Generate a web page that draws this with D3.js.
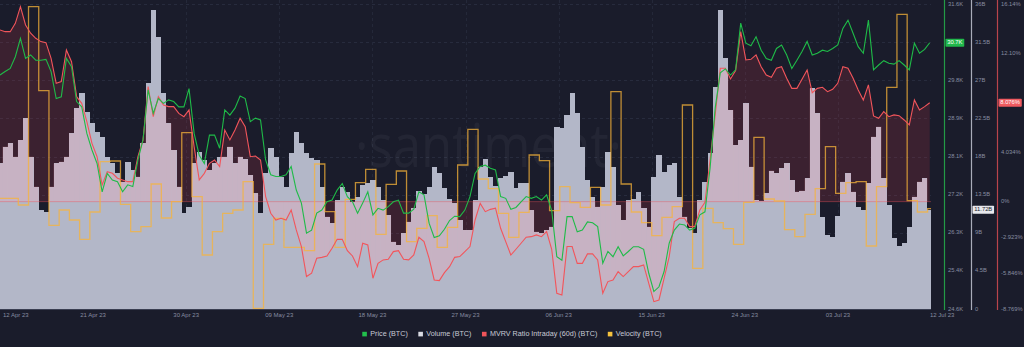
<!DOCTYPE html>
<html>
<head>
<meta charset="utf-8">
<script src="https://cdn.jsdelivr.net/npm/d3@7"></script>
<style>
  html, body { margin: 0; padding: 0; background: #1a1c2b; }
  svg { display: block; font-family: "Liberation Sans", Arial, "DejaVu Sans", sans-serif; }
</style>
</head>
<body>
<svg id="chart" width="1024" height="347"></svg>
<script>
// ---- series: 12-hourly samples starting 12 Apr 2023 05:00 UTC ----
const startTime = Date.UTC(2023, 3, 12, 5);
const endTime = Date.UTC(2023, 6, 12, 8);
const stepHours = 12;

// Price (USD per BTC)
const priceBTC = [
  29970, 30050, 30120, 30390, 30810, 30350, 30430, 30310, 30310, 30330,
  30050, 29430, 29470, 30350, 30160, 29360, 29240, 28630, 28250, 27940,
  27290, 27710, 27560, 27520, 27290, 27450, 27410, 28020, 28480, 29630,
  29090, 29430, 29320, 29400, 29360, 29240, 29240, 29660, 28630, 28130,
  27940, 28590, 28590, 28290, 29170, 29050, 29210, 29490, 29430, 28900,
  28980, 28940, 28020, 27680, 27640, 27640, 27680, 27870, 27330, 27030,
  26340, 26410, 26800, 26870, 27060, 27100, 27330, 27480, 27180, 27060,
  26800, 27030, 27290, 26760, 26910, 26870, 26950, 27060, 27100, 26800,
  26800, 26890, 27290, 27220, 26570, 26240, 26280, 26430, 26630, 26730,
  26720, 26870, 27180, 27710, 27870, 27900, 27830, 27790, 27180, 27140,
  26890, 26930, 27060, 27180, 27140, 27180, 27100, 27220, 26860, 25800,
  25720, 26720, 26720, 26370, 26410, 26600, 26580, 26490, 25650, 25920,
  25800, 26030, 25820, 25920, 26030, 26030, 25970, 25420, 25000, 25110,
  25460, 26110, 26410, 26550, 26530, 26410, 26450, 26760, 26830, 27830,
  29210, 30020, 30110, 29970, 30090, 31160, 30700, 30640, 30850, 30540,
  30350, 30310, 30580, 30660, 30430, 30120, 30310, 30510, 30740, 30430,
  30470, 30540, 30510, 30580, 30660, 31040, 31230, 30930, 30620, 30470,
  31230, 30090, 30200, 30300, 30240, 30220, 30300, 30200, 30090, 30700,
  30470, 30560, 30710
];

// Volume (billions)
const volumeBTC = [
  17.19, 19.16, 19.55, 17.98, 19.95, 22.50, 17.98, 14.44, 11.68, 11.49,
  14.44, 17.19, 17.39, 17.98, 20.73, 23.68, 25.45, 23.29, 21.91, 20.93,
  20.34, 17.98, 17.19, 16.01, 15.03, 17.39, 16.40, 15.62, 19.55, 26.63,
  35.29, 32.14, 25.45, 21.91, 18.77, 14.44, 11.29, 12.08, 17.19, 18.57,
  17.58, 16.40, 17.19, 17.98, 17.98, 19.16, 17.19, 17.98, 17.66, 15.81,
  13.65, 11.29, 16.01, 18.96, 17.98, 15.62, 14.44, 18.37, 20.93, 19.55,
  18.37, 17.78, 17.58, 14.44, 10.90, 10.11, 12.86, 14.36, 13.85, 12.67,
  13.26, 14.60, 14.91, 15.22, 14.44, 12.86, 11.09, 7.95, 7.55, 8.93,
  10.31, 11.88, 13.97, 13.57, 14.44, 16.80, 16.01, 14.24, 12.94, 12.47,
  10.50, 9.32, 9.32, 12.86, 16.80, 17.66, 15.62, 14.52, 15.42, 15.70,
  16.21, 14.24, 14.83, 14.83, 11.68, 9.13, 8.93, 9.32, 9.72, 21.52,
  21.32, 22.90, 25.45, 23.09, 19.16, 15.22, 13.26, 12.08, 14.44, 18.57,
  16.80, 12.27, 10.50, 12.86, 12.94, 13.85, 11.88, 9.72, 15.62, 18.18,
  16.21, 16.99, 17.19, 13.26, 10.90, 9.52, 8.93, 12.86, 15.03, 18.37,
  26.24, 35.29, 29.58, 23.49, 19.36, 19.95, 24.27, 16.80, 12.86, 12.79,
  13.65, 16.33, 16.01, 16.60, 17.19, 15.22, 13.85, 13.97, 15.42, 26.04,
  23.09, 10.90, 8.73, 8.46, 10.98, 15.03, 16.01, 13.85, 12.08, 11.68,
  14.83, 20.34, 21.52, 15.42, 12.27, 8.34, 7.44, 7.75, 9.72, 13.26,
  15.03, 15.42, 11.72
];

// MVRV Ratio Intraday (60d), percent
const mvrvPct = [
  14.02, 13.88, 13.88, 14.56, 15.92, 14.43, 13.75, 13.34, 13.07, 12.98,
  11.70, 9.66, 9.80, 12.39, 11.43, 8.57, 8.03, 6.53, 4.76, 3.67,
  1.36, 2.45, 2.31, 1.91, 1.77, 1.63, 1.63, 3.67, 5.04, 9.39,
  6.94, 8.57, 7.89, 7.76, 7.76, 7.21, 6.94, 7.49, 4.49, 1.77,
  2.31, 3.13, 3.40, 2.86, 5.85, 5.04, 5.85, 6.81, 6.12, 3.67,
  3.73, 3.40, 0.41, -0.95, -1.50, -1.36, -1.50, -0.68, -2.31, -3.67,
  -6.12, -5.85, -4.63, -4.55, -4.44, -3.81, -3.08, -3.08, -4.00, -4.44,
  -5.31, -3.40, -3.54, -6.26, -5.04, -4.76, -4.71, -4.08, -4.00, -4.71,
  -4.76, -4.36, -2.91, -3.27, -4.63, -6.40, -6.45, -5.80, -5.31, -4.55,
  -4.49, -4.08, -3.67, -1.50, -0.14, -0.82, -0.63, -0.54, -2.18, -3.27,
  -4.36, -3.89, -3.40, -2.91, -2.86, -2.72, -2.86, -2.45, -3.89, -7.49,
  -7.62, -3.67, -3.67, -5.04, -5.04, -4.27, -4.27, -4.76, -7.49, -6.53,
  -6.40, -5.72, -6.12, -5.72, -5.31, -5.31, -5.17, -6.67, -8.17, -8.03,
  -6.26, -4.49, -1.63, -1.36, -1.36, -2.04, -2.04, -0.68, -0.05, 3.40,
  7.08, 10.89, 10.89, 10.02, 10.70, 13.88, 11.57, 11.62, 11.98, 11.02,
  10.34, 10.15, 10.89, 11.02, 10.07, 9.25, 9.25, 9.99, 10.75, 8.90,
  9.25, 9.34, 8.98, 9.17, 9.66, 11.02, 10.89, 10.07, 9.12, 8.30,
  9.53, 7.00, 6.81, 7.35, 6.94, 7.08, 7.02, 6.67, 6.26, 8.30,
  7.49, 7.76, 8.076
];

// Velocity, one value per calendar day from 12 Apr 2023 to 12 Jul 2023
const velocityDaily = [
  3.32, 3.32, 3.12, 9.07, 6.55, 2.51, 2.97, 2.67, 2.09, 2.91,
  4.42, 4.44, 3.14, 2.32, 2.47, 3.75, 2.73, 3.22, 5.29, 3.37,
  1.62, 2.32, 2.87, 2.97, 3.82, 0.02, 1.94, 2.72, 1.85, 1.85,
  1.75, 4.35, 2.92, 1.85, 3.29, 3.79, 4.19, 2.24, 3.74, 4.14,
  2.02, 2.42, 2.80, 1.85, 2.45, 4.32, 5.39, 3.90, 3.61, 2.87,
  2.15, 2.90, 4.62, 4.45, 2.95, 3.67, 3.19, 3.05, 3.65, 3.12,
  6.52, 3.75, 2.91, 2.59, 2.20, 2.75, 3.07, 6.12, 1.22, 3.02,
  2.59, 2.41, 1.94, 3.20, 5.15, 3.30, 3.24, 2.38, 2.17, 2.84,
  3.61, 4.87, 3.47, 3.79, 3.82, 1.89, 3.67, 6.65, 8.84, 3.25,
  2.91, 3.01
];

// Axis ticks
const xTickLabels = ["12 Apr 23", "21 Apr 23", "30 Apr 23", "09 May 23", "18 May 23", "27 May 23",
                     "06 Jun 23", "15 Jun 23", "24 Jun 23", "03 Jul 23", "12 Jul 23"];
const priceTicks = [24600, 25475, 26350, 27225, 28100, 28975, 29850, 30725, 31600];
const priceTickLabels = ["24.6K", "25.4K", "26.3K", "27.2K", "28.1K", "28.9K", "29.8K", "30.7K", "31.6K"];
const volumeTicks = [0, 4.5, 9, 13.5, 18, 22.5, 27, 31.5, 36];
const volumeTickLabels = ["0", "4.5B", "9B", "13.5B", "18B", "22.5B", "27B", "31.5B", "36B"];
const mvrvTicks = [-8.769, -5.846, -2.923, 0, 4.034, 8.069, 12.10, 16.14];
const mvrvTickLabels = ["-8.769%", "-5.846%", "-2.923%", "0%", "4.034%", "8.069%", "12.10%", "16.14%"];

const legendItems = [
  { label: "Price (BTC)", color: "#22c04c" },
  { label: "Volume (BTC)", color: "#d9dbe3" },
  { label: "MVRV Ratio Intraday (60d) (BTC)", color: "#f0545a" },
  { label: "Velocity (BTC)", color: "#f5c23e" }
];

// ---- layout ----
const W = 1024, H = 347;
const plot = { left: 0, right: 931, top: 4, bottom: 309 };
const BG = "#1a1c2b";

const svg = d3.select("#chart");
svg.append("rect").attr("width", W).attr("height", H).attr("fill", BG);

const x = d3.scaleUtc().domain([startTime, endTime]).range([plot.left, plot.right]);
const yPrice = d3.scaleLinear().domain([24600, 31600]).range([plot.bottom, plot.top]);
const yVol = d3.scaleLinear().domain([0, 36]).range([plot.bottom, plot.top]);
const yMvrv = d3.scaleLinear().domain([-8.769, 16.14]).range([plot.bottom, plot.top]);
const yVel = d3.scaleLinear().domain([0, 9.15]).range([plot.bottom, plot.top]);

const times = priceBTC.map((_, i) => new Date(startTime + i * stepHours * 3600e3));
const series = times.map((t, i) => ({ t, price: priceBTC[i], vol: volumeBTC[i], mvrv: mvrvPct[i] }));

const defs = svg.append("defs");
defs.append("clipPath").attr("id", "plotClip")
  .append("rect").attr("x", plot.left).attr("y", 0)
  .attr("width", plot.right - plot.left).attr("height", plot.bottom + 1);

// grid
const grid = svg.append("g");
const xTickTimes = xTickLabels.map((_, i) => x.invert(plot.left + i * (plot.right - plot.left) / (xTickLabels.length - 1)));
grid.selectAll("line.h").data(priceTicks.slice(1)).join("line")
  .attr("x1", plot.left).attr("x2", plot.right)
  .attr("y1", d => Math.round(yPrice(d)) + 0.5).attr("y2", d => Math.round(yPrice(d)) + 0.5)
  .attr("stroke", "#272b3d").attr("stroke-width", 1).attr("stroke-dasharray", "3,3");
grid.selectAll("line.v").data(xTickTimes.slice(1, -1)).join("line")
  .attr("x1", d => Math.round(x(d)) + 0.5).attr("x2", d => Math.round(x(d)) + 0.5)
  .attr("y1", 0).attr("y2", plot.bottom)
  .attr("stroke", "#242839").attr("stroke-width", 1).attr("stroke-dasharray", "3,3");

// watermark
svg.append("text")
  .attr("x", 355).attr("y", 167)
  .attr("font-size", 60).attr("font-family", "'Open Sans', sans-serif")
  .attr("textLength", 267).attr("lengthAdjust", "spacingAndGlyphs")
  .attr("fill", "rgba(255,255,255,0.045)")
  .text("·santiment·");

const plotG = svg.append("g").attr("clip-path", "url(#plotClip)");

// MVRV area (between the ratio and its zero level)
const mvrvArea = d3.area()
  .x(d => x(d.t))
  .y0(yMvrv(0))
  .y1(d => yMvrv(d.mvrv));

plotG.append("path").datum(series)
  .attr("d", mvrvArea)
  .attr("fill", "rgba(200,60,72,0.19)");

// volume bars (adjacent, slightly overlapping so no seams appear)
const step = x(times[1]) - x(times[0]);
const barRect = sel => sel
  .attr("x", d => x(d.t) - step / 2)
  .attr("width", step + 0.3)
  .attr("y", d => yVol(d.vol))
  .attr("height", d => plot.bottom - yVol(d.vol));

plotG.append("g").attr("shape-rendering", "crispEdges")
  .selectAll("rect").data(series).join("rect")
  .call(barRect).attr("fill", "#b3b7c8");

defs.append("clipPath").attr("id", "volClip")
  .selectAll("rect").data(series).join("rect").call(barRect);

// tint where the MVRV area overlaps the volume bars
plotG.append("g").attr("clip-path", "url(#volClip)")
  .append("path").datum(series)
  .attr("d", mvrvArea)
  .attr("fill", "rgba(255,165,180,0.27)");

// MVRV zero level
plotG.append("line")
  .attr("x1", plot.left).attr("x2", plot.right)
  .attr("y1", yMvrv(0)).attr("y2", yMvrv(0))
  .attr("stroke", "rgba(235,80,90,0.4)").attr("stroke-width", 1);

// velocity step line
const velPoints = velocityDaily.map((v, d) => ({ t: new Date(Math.max(startTime, Date.UTC(2023, 3, 12 + d))), v }));
velPoints.push({ t: new Date(endTime), v: velocityDaily[velocityDaily.length - 1] });
plotG.append("path").datum(velPoints)
  .attr("d", d3.line().x(d => x(d.t)).y(d => yVel(d.v)).curve(d3.curveStepAfter))
  .attr("fill", "none").attr("stroke", "#f7b33a").attr("stroke-opacity", 0.75)
  .attr("stroke-width", 1.3);

// MVRV line
plotG.append("path").datum(series)
  .attr("d", d3.line().x(d => x(d.t)).y(d => yMvrv(d.mvrv)))
  .attr("fill", "none").attr("stroke", "#f2555b").attr("stroke-width", 1.1);

// price line
plotG.append("path").datum(series)
  .attr("d", d3.line().x(d => x(d.t)).y(d => yPrice(d.price)))
  .attr("fill", "none").attr("stroke", "#1fbb48").attr("stroke-width", 1.1);

// bottom axis line
svg.append("line")
  .attr("x1", plot.left).attr("x2", plot.right)
  .attr("y1", plot.bottom + 0.5).attr("y2", plot.bottom + 0.5)
  .attr("stroke", "#3a3e52").attr("stroke-width", 1);

// x labels
const labelColor = "#878ca0";
svg.append("g").selectAll("text").data(xTickTimes).join("text")
  .attr("x", (d, i) => i === 0 ? 3 : (i === xTickTimes.length - 1 ? x(d) - 1 : x(d)))
  .attr("y", 317)
  .attr("text-anchor", (d, i) => (i === 0 || i === xTickTimes.length - 1) ? "start" : "middle")
  .attr("font-size", 6).attr("fill", labelColor)
  .text((d, i) => xTickLabels[i]);

// right-hand axes
function rightAxis(xLine, color, scale, ticks, labels) {
  const g = svg.append("g");
  g.append("line").attr("x1", xLine).attr("x2", xLine).attr("y1", 0).attr("y2", plot.bottom + 1)
    .attr("stroke", color).attr("stroke-width", 1.2);
  g.selectAll("text").data(ticks).join("text")
    .attr("x", xLine + 3.5).attr("y", d => scale(d))
    .attr("dominant-baseline", "middle")
    .attr("font-size", 5.8).attr("fill", labelColor)
    .text((d, i) => labels[i]);
  return g;
}
rightAxis(944.5, "#239b46", yPrice, priceTicks, priceTickLabels);
rightAxis(971.5, "#a9acba", yVol, volumeTicks, volumeTickLabels);
rightAxis(997.5, "#b9444c", yMvrv, mvrvTicks, mvrvTickLabels);

// last-value badges
function badge(xLeft, yCenter, text, bg, fg) {
  const g = svg.append("g");
  const r = g.append("rect").attr("fill", bg).attr("rx", 0.8);
  const t = g.append("text").attr("x", xLeft + 1.8).attr("y", yCenter)
    .attr("dominant-baseline", "middle").attr("font-size", 5.8).attr("fill", fg).text(text);
  const w = t.node().getComputedTextLength();
  r.attr("x", xLeft).attr("y", yCenter - 4).attr("width", w + 3.6).attr("height", 8);
}
badge(945.5, yPrice(priceBTC[priceBTC.length - 1]), "30.7K", "#21b74b", "#ffffff");
badge(972.5, yVol(volumeBTC[volumeBTC.length - 1]), "11.72B", "#e6e7ec", "#1a1c2b");
badge(998.5, yMvrv(mvrvPct[mvrvPct.length - 1]), "8.076%", "#ef5a60", "#ffffff");

// legend
const legend = svg.append("g");
let lx = 0;
legendItems.forEach(item => {
  const g = legend.append("g").attr("transform", `translate(${lx},0)`);
  g.append("rect").attr("x", 0).attr("y", 331.8).attr("width", 4.6).attr("height", 4.6).attr("fill", item.color);
  const t = g.append("text").attr("x", 8).attr("y", 334.3).attr("dominant-baseline", "middle")
    .attr("font-size", 7.2).attr("fill", "#c8cbd6").text(item.label);
  const w = 8 + t.node().getComputedTextLength();
  lx += w + 10.5;
});
const totalW = lx - 10.5;
legend.attr("transform", `translate(${512 - totalW / 2},0)`);
</script>
</body>
</html>
